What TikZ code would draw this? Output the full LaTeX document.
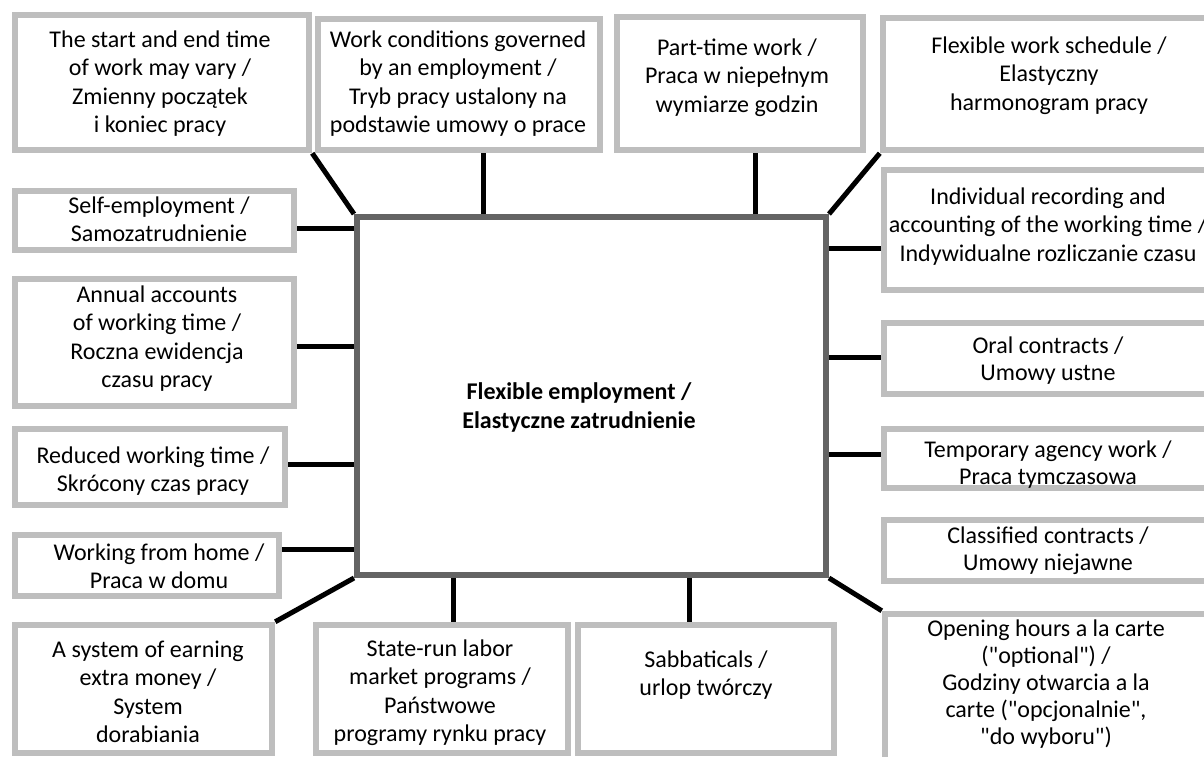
\documentclass[tikz,border=0pt]{standalone}
\usepackage{fontspec}
\setmainfont{Carlito}[Ligatures=TeXOff]
\usetikzlibrary{backgrounds}
\definecolor{boxgray}{RGB}{190,190,190}
\definecolor{coregray}{RGB}{100,100,100}
\newcommand\fl{\rule{0pt}{18pt}}
\newcommand\qq{\symbol{34}}
\tikzset{
  box/.style={draw=boxgray, line width=6.5pt, fill=white, rectangle, inner sep=0pt},
  core/.style={draw=coregray, line width=6pt, fill=white, rectangle, inner sep=0pt},
  lbl/.style={anchor=north, inner sep=0pt, align=center, font=\fontsize{24}{28.5}\selectfont},
  lbls/.style={anchor=north, inner sep=0pt, align=center, font=\fontsize{24}{27}\selectfont},
  conn/.style={draw=black, line width=5pt}
}
\begin{document}
\begin{tikzpicture}[x=1pt,y=-1pt]
\useasboundingbox (0,0) rectangle (1204,756);
\clip (0,0) rectangle (1204,756);
% central box
\node[core, minimum width=469pt, minimum height=358pt] (c) at (591.5,396) {};
\node[lbl, font=\fontsize{24}{29}\selectfont\bfseries] (tc) at (579,381) {\fl Flexible employment /\\Elastyczne zatrudnienie};
% top row
\node[box, minimum width=294pt, minimum height=135pt] (b1) at (162,82.5) {};
\node[lbl] (t1) at (160,29) {\fl The start and end time\\of work may vary /\\Zmienny początek\\i koniec pracy};
\node[box, minimum width=282pt, minimum height=131pt] (b2) at (459,84.5) {};
\node[lbl] (t2) at (458,29) {\fl Work conditions governed\\by an employment /\\Tryb pracy ustalony na\\podstawie umowy o prace};
\node[box, minimum width=246pt, minimum height=133pt] (b3) at (740,83.5) {};
\node[lbl] (t3) at (737,37) {\fl Part-time work /\\Praca w niepełnym\\wymiarze godzin};
\node[box, minimum width=332pt, minimum height=132pt] (b4) at (1049,84) {};
\node[lbl] (t4) at (1049,35) {\fl Flexible work schedule /\\Elastyczny\\harmonogram pracy};
% right column
\node[box, minimum width=331pt, minimum height=120pt] (b5) at (1049.5,230) {};
\node[lbl] (t5) at (1048,186) {\fl Individual recording and\\accounting of the working time /\\Indywidualne rozliczanie czasu};
\node[box, minimum width=331pt, minimum height=71pt] (b6) at (1049.5,358.5) {};
\node[lbls] (t6) at (1048,335) {\fl Oral contracts /\\Umowy ustne};
\node[box, minimum width=331pt, minimum height=59pt] (b7) at (1049.5,458.5) {};
\node[lbls] (t7) at (1048,439) {\fl Temporary agency work /\\Praca tymczasowa};
\node[box, minimum width=331pt, minimum height=61pt] (b8) at (1049.5,550.5) {};
\node[lbls] (t8) at (1048,525) {\fl Classified contracts /\\Umowy niejawne};
\node[box, minimum width=330pt, minimum height=148pt] (b9) at (1050,688) {};
\node[lbls] (t9) at (1046,618) {\fl Opening hours a la carte\\(\qq optional\qq) /\\Godziny otwarcia a la\\carte (\qq opcjonalnie\qq,\\\qq do wyboru\qq)};
% left column
\node[box, minimum width=279pt, minimum height=59pt] (l1) at (154.5,220.5) {};
\node[lbl] (s1) at (159,195) {\fl Self-employment /\\Samozatrudnienie};
\node[box, minimum width=279pt, minimum height=127pt] (l2) at (154.5,342.5) {};
\node[lbl] (s2) at (157,284) {\fl Annual accounts\\of working time /\\Roczna ewidencja\\czasu pracy};
\node[box, minimum width=270pt, minimum height=76pt] (l3) at (150,467) {};
\node[lbl] (s3) at (153,445) {\fl Reduced working time /\\Skrócony czas pracy};
\node[box, minimum width=264pt, minimum height=61pt] (l4) at (147,565.5) {};
\node[lbl] (s4) at (159,542) {\fl Working from home /\\Praca w domu};
% bottom row
\node[box, minimum width=257pt, minimum height=128pt] (d1) at (143.5,689) {};
\node[lbl] (u1) at (148,639) {\fl A system of earning\\extra money /\\System\\dorabiania};
\node[box, minimum width=252pt, minimum height=128pt] (d2) at (442,689) {};
\node[lbl] (u2) at (440,638) {\fl State-run labor\\market programs /\\Państwowe\\programy rynku pracy};
\node[box, minimum width=256pt, minimum height=128pt] (d3) at (706,689) {};
\node[lbl] (u3) at (706,649) {\fl Sabbaticals /\\urlop twórczy};
% connectors
\begin{pgfonlayer}{background}
\fill[white] (0,0) rectangle (1204,756);
\draw[conn] (b1.south east) -- (c.north west);
\draw[conn] ([xshift=24pt]b2.south) -- ([xshift=24pt]b2.south |- c.north);
\draw[conn] ([xshift=15pt]b3.south) -- ([xshift=15pt]b3.south |- c.north);
\draw[conn] (b4.south west) -- (c.north east);
\draw[conn] ([yshift=-18pt]b5.west) -- ([yshift=-18pt]b5.west -| c.east);
\draw[conn] ([yshift=1.5pt]b6.west) -- ([yshift=1.5pt]b6.west -| c.east);
\draw[conn] ([yshift=4.5pt]b7.west) -- ([yshift=4.5pt]b7.west -| c.east);
\draw[conn] (c.south east) -- (b9.north west);
\draw[conn] ([xshift=-17pt]d3.north) -- ([xshift=-17pt]d3.north |- c.south);
\draw[conn] ([xshift=11pt]d2.north) -- ([xshift=11pt]d2.north |- c.south);
\draw[conn] (c.south west) -- (d1.north east);
\draw[conn] ([yshift=16.5pt]l4.east) -- ([yshift=16.5pt]l4.east -| c.west);
\draw[conn] ([yshift=3pt]l3.east) -- ([yshift=3pt]l3.east -| c.west);
\draw[conn] ([yshift=-3.5pt]l2.east) -- ([yshift=-3.5pt]l2.east -| c.west);
\draw[conn] ([yshift=-7.5pt]l1.east) -- ([yshift=-7.5pt]l1.east -| c.west);
\end{pgfonlayer}
\end{tikzpicture}
\end{document}
